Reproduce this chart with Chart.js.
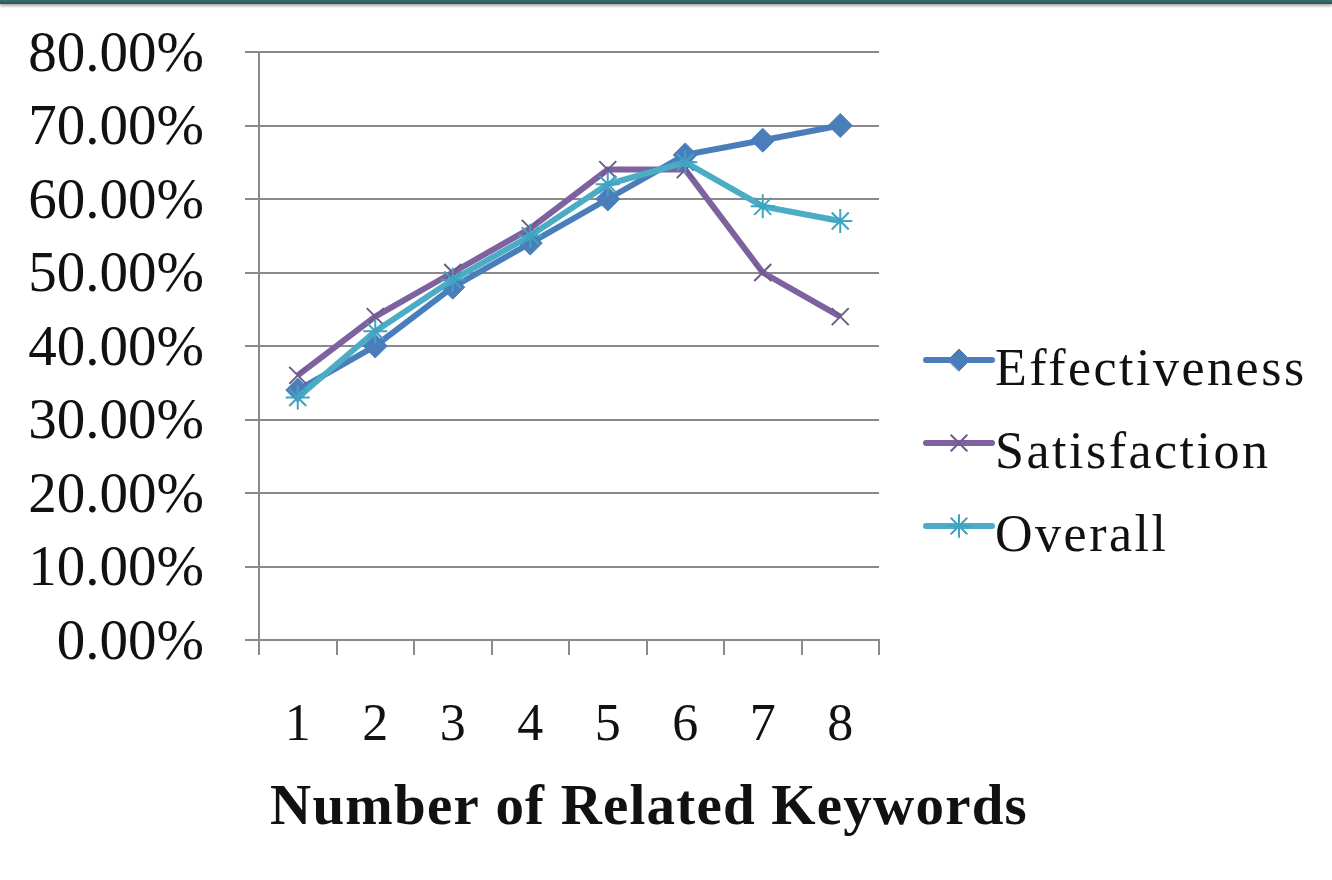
<!DOCTYPE html>
<html>
<head>
<meta charset="utf-8">
<title>Number of Related Keywords</title>
<script src="https://cdn.jsdelivr.net/npm/chart.js@4.4.1/dist/chart.umd.min.js"></script>
<style>
  html, body { margin: 0; padding: 0; background: #ffffff; }
  #wrap { position: relative; width: 1332px; height: 880px; overflow: hidden; }
  #band {
    position: absolute; left: 0; top: 0; width: 1332px; height: 4px;
    background: linear-gradient(#3d706e, #2b5452);
    box-shadow: 0 2px 3px rgba(0,0,0,0.35);
    z-index: 2;
  }
  canvas { position: absolute; left: 0; top: 0; }
</style>
</head>
<body>
<div id="wrap">
  <div id="band"></div>
  <canvas id="chart" width="1332" height="880"></canvas>
</div>
<script>
// Category labels along the x axis
const categories = ['1', '2', '3', '4', '5', '6', '7', '8'];

// Series values, in percent
const effectiveness = [34, 40, 48, 54, 60, 66, 68, 70];
const satisfaction  = [36, 44, 50, 56, 64, 64, 50, 44];
const overall       = [33, 42, 49, 55, 62, 65, 59, 57];

// Value axis range and step
const yMin = 0;
const yMax = 80;
const yStep = 10;

const axisTitle = 'Number of Related Keywords';

const SERIF = '"Liberation Serif", "Times New Roman", serif';
const GRID = '#8a8a8a';
const TEXT = '#111111';

const series = [
  { label: 'Effectiveness', data: effectiveness, color: '#4a7ebb', markColor: '#4a7ebb',
    pointStyle: 'rectRot', radius: 12, markWidth: 1, order: 3 },
  { label: 'Satisfaction', data: satisfaction, color: '#7e62a0', markColor: '#6e5a8c',
    pointStyle: 'crossRot', radius: 12, markWidth: 2, order: 2 },
  { label: 'Overall', data: overall, color: '#4bacc6', markColor: '#3fa3c2',
    pointStyle: 'star', radius: 12, markWidth: 2, order: 1 }
];

// Legend on the right (line sample + marker + name) and the bottom axis title
const sideText = {
  id: 'sideText',
  afterDraw(chart) {
    const ctx = chart.ctx;
    const area = chart.chartArea;
    ctx.save();

    const rowGap = 83;
    const firstRow = chart.height / 2 - 80;
    series.forEach((s, i) => {
      const y = firstRow + i * rowGap;
      const x0 = area.right + 47;
      const x1 = area.right + 113;
      ctx.lineCap = 'round';
      ctx.strokeStyle = s.color;
      ctx.lineWidth = 6;
      ctx.beginPath();
      ctx.moveTo(x0, y);
      ctx.lineTo(x1, y);
      ctx.stroke();

      ctx.fillStyle = s.markColor;
      ctx.strokeStyle = s.markColor;
      ctx.lineWidth = s.markWidth;
      Chart.helpers.drawPoint(ctx, {
        pointStyle: s.pointStyle, rotation: 0, radius: s.radius - 1, borderWidth: s.markWidth
      }, (x0 + x1) / 2, y);

      ctx.fillStyle = TEXT;
      ctx.font = '52px ' + SERIF;
      ctx.textAlign = 'left';
      ctx.textBaseline = 'alphabetic';
      ctx.letterSpacing = '2.5px';
      ctx.fillText(s.label, area.right + 116, y + 25);
      ctx.letterSpacing = '0px';
    });

    ctx.fillStyle = TEXT;
    ctx.font = 'bold 57px ' + SERIF;
    ctx.textAlign = 'center';
    ctx.textBaseline = 'alphabetic';
    ctx.letterSpacing = '1.2px';
    ctx.fillText(axisTitle, (chart.width - 34) / 2, 824);
    ctx.letterSpacing = '0px';
    ctx.restore();
  }
};

new Chart(document.getElementById('chart'), {
  type: 'line',
  data: {
    labels: categories,
    datasets: series.map(s => ({
      label: s.label,
      data: s.data,
      order: s.order,
      borderColor: s.color,
      backgroundColor: s.markColor,
      borderWidth: 6,
      tension: 0,
      fill: false,
      pointStyle: s.pointStyle,
      pointRadius: s.radius,
      pointHoverRadius: s.radius,
      pointBorderWidth: s.markWidth,
      pointBorderColor: s.markColor,
      pointBackgroundColor: s.markColor
    }))
  },
  options: {
    responsive: false,
    animation: false,
    events: [],
    layout: { padding: { top: 52, left: 0, right: 453, bottom: 100 } },
    plugins: {
      legend: { display: false },
      title: { display: false },
      tooltip: { enabled: false }
    },
    scales: {
      x: {
        type: 'category',
        offset: true,
        grid: {
          offset: true,
          drawOnChartArea: false,
          drawTicks: true,
          tickLength: 15,
          color: GRID,
          lineWidth: 2
        },
        border: { color: GRID, width: 2 },
        ticks: {
          font: { family: SERIF, size: 52 },
          color: TEXT,
          padding: 40,
          maxRotation: 0,
          autoSkip: false
        },
        afterFit(scale) {
          scale.height = 140;
          scale.paddingLeft = 0;
          scale.paddingRight = 0;
        }
      },
      y: {
        min: yMin,
        max: yMax,
        grid: {
          color: GRID,
          lineWidth: 2,
          tickLength: 14
        },
        border: { color: GRID, width: 2 },
        ticks: {
          stepSize: yStep,
          font: { family: SERIF, size: 57 },
          color: TEXT,
          padding: 41,
          labelOffset: 4,
          autoSkip: false,
          callback: v => v.toFixed(2) + '%'
        },
        afterFit(scale) {
          scale.width = 259;
          scale.paddingTop = 0;
          scale.paddingBottom = 0;
        }
      }
    }
  },
  plugins: [sideText]
});
</script>
</body>
</html>
